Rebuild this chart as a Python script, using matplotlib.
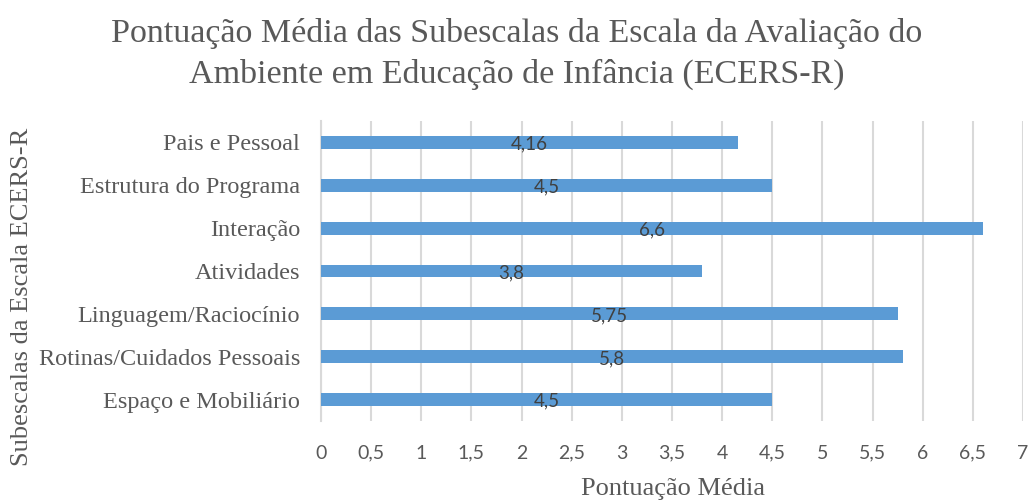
import numpy as np
import matplotlib.pyplot as plt

categorias = ["Espaço e Mobiliário", "Rotinas/Cuidados Pessoais", "Linguagem/Raciocínio",
              "Atividades", "Interação", "Estrutura do Programa", "Pais e Pessoal"]
valores = [4.5, 5.8, 5.75, 3.8, 6.6, 4.5, 4.16]
rotulos = ["4,5", "5,8", "5,75", "3,8", "6,6", "4,5", "4,16"]
xticks = np.arange(0, 7.5, 0.5)
xtick_labels = ["0", "0,5", "1", "1,5", "2", "2,5", "3", "3,5", "4", "4,5", "5", "5,5", "6", "6,5", "7"]

serif = "Liberation Serif"
sans = "Lato"
cinza = "#595959"

fig = plt.figure(figsize=(10.33, 5.04), dpi=100)
ax = fig.add_axes([0.3107, 0.1647, 0.6796, 0.5953])

y = np.arange(len(categorias))
ax.barh(y, valores, height=0.3, color="#5B9BD5", zorder=3)

# rótulos no centro das barras
for yi, v, lab in zip(y, valores, rotulos):
    ax.text(v / 2, yi - 0.04, lab, ha="center", va="center", fontsize=13.5,
            family=sans, color="#404040", zorder=4)

ax.set_xlim(0, 7)
ax.set_ylim(-0.5, 6.5)
ax.set_xticks(xticks)
ax.set_xticklabels(xtick_labels, family=sans, fontsize=14, color=cinza)
ax.set_yticks(y)
ax.set_yticklabels(categorias, family=serif, fontsize=17.5, color=cinza)
ax.tick_params(axis="both", length=0)
ax.tick_params(axis="x", pad=17)
ax.tick_params(axis="y", pad=15)

ax.grid(axis="x", color="#d9d9d9", linewidth=1.5, zorder=0)
for s in ["top", "right", "bottom"]:
    ax.spines[s].set_visible(False)
ax.spines["left"].set_color("#d9d9d9")
ax.spines["left"].set_linewidth(1.5)

fig.text(0.6515, 0.03, "Pontuação Média", ha="center", va="center",
         family=serif, fontsize=19, color=cinza)
fig.text(0.021, 0.41, "Subescalas da Escala ECERS-R", rotation=90, ha="center", va="center",
         family=serif, fontsize=19, color=cinza)

fig.text(0.5, 0.933, "Pontuação Média das Subescalas da Escala da Avaliação do",
         ha="center", va="center", family=serif, fontsize=24.5, color=cinza)
fig.text(0.5, 0.853, "Ambiente em Educação de Infância (ECERS-R)",
         ha="center", va="center", family=serif, fontsize=24.5, color=cinza)

fig.savefig("out.png", dpi=100)
